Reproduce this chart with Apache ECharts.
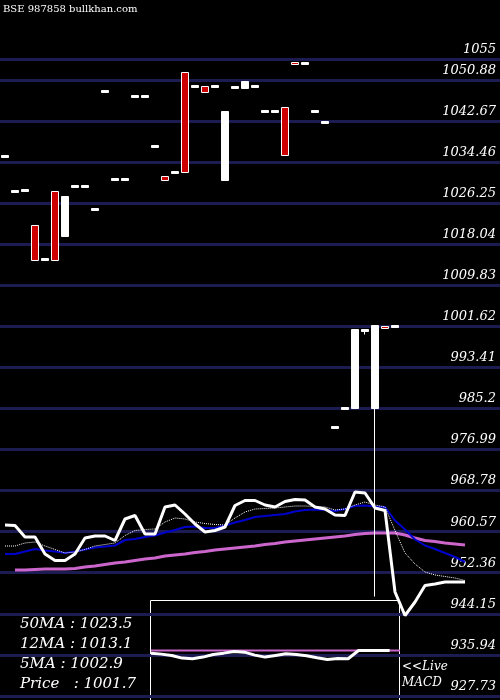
<!DOCTYPE html>
<html>
<head>
<meta charset="utf-8">
<script src="https://cdn.jsdelivr.net/npm/echarts@6/dist/echarts.min.js"></script>
<style>html,body{margin:0;background:#000;}#c{width:500px;height:700px;}</style>
</head>
<body>
<div id="c"></div>
<script>
// candles: [open, close]
var candles = [
  [1035.4,1035.8],[1028.4,1028.8],[1028.6,1029.0],[1021.8,1014.8],[1014.8,1015.2],
  [1028.6,1014.8],[1019.6,1027.6],[1029.4,1029.8],[1029.4,1029.8],[1024.8,1025.2],
  [1048.4,1048.8],[1030.8,1031.2],[1030.8,1031.2],[1047.4,1047.8],[1047.4,1047.8],
  [1037.4,1037.8],[1031.6,1030.8],[1032.2,1032.6],[1052.4,1032.4],[1049.4,1049.8],
  [1049.6,1048.4],[1049.4,1049.8],[1030.8,1044.6],[1049.2,1049.6],[1049.2,1050.6],
  [1049.4,1049.8],[1044.4,1044.8],[1044.4,1044.8],[1045.4,1035.8],[1054.4,1054.0],
  [1054.0,1054.4],[1044.4,1044.8],[1042.2,1042.6],[981.2,981.6],[985.0,985.4],
  [985.2,1001.0],[1000.6,1001.0],[985.2,1001.8],[1001.6,1001.2],[1001.4,1001.8]
];
var candleLows = {37: 947.6, 36: 1000.0};
var levels = ['1055','1050.88','1042.67','1034.46','1026.25','1018.04','1009.83','1001.62',
  '993.41','985.2','976.99','968.78','960.57','952.36','944.15','935.94','927.73'];
var priceLine = [961.9,961.8,959.5,959.5,956.1,954.8,954.8,956.1,959.3,959.7,959.7,958.8,963.1,963.8,
  960.1,960.1,965.5,965.9,964.1,962.1,960.5,960.8,961.5,965.8,966.8,966.8,965.9,965.5,966.6,967.0,
  966.9,965.5,965.1,963.9,963.8,968.5,968.3,965.3,964.8,948.5,943.8,946.5,949.8,950.1,950.5,950.5,950.5];
var ma5 = [957.7,957.7,958.3,958.5,957.7,957.0,956.3,956.5,957.0,957.7,958.0,958.3,959.8,960.8,961.0,
  961.1,962.5,963.3,963.1,962.5,962.2,962.0,961.9,963.3,964.5,965.1,965.2,965.3,965.5,965.7,965.7,
  965.6,965.5,964.9,965.1,965.9,966.5,965.9,965.5,960.8,956.3,954.1,952.5,951.9,951.6,951.3,950.8];
var ma12 = [956.1,956.1,956.6,957.1,956.8,956.6,956.3,956.6,957.0,957.4,957.6,957.8,958.9,959.1,959.5,
  959.8,960.4,960.9,961.5,961.6,961.3,961.3,961.8,962.4,962.9,963.5,963.7,963.9,964.1,964.6,964.9,
  965.0,964.9,964.7,965.1,965.7,965.8,965.6,965.5,962.8,961.0,959.0,957.8,957.1,956.3,955.5,954.5];
var ma50 = ['-',952.9,952.9,953.0,953.1,953.1,953.1,953.2,953.5,953.7,954.0,954.3,954.5,954.8,955.1,
  955.3,955.7,955.9,956.1,956.4,956.6,956.9,957.1,957.3,957.5,957.7,958.0,958.2,958.5,958.7,958.9,
  959.1,959.3,959.5,959.7,960.0,960.2,960.3,960.3,960.3,959.9,959.3,958.8,958.6,958.3,958.1,957.9];
var macd = [-0.8,-1.1,-1.5,-2.3,-2.5,-2.0,-1.2,-0.8,-0.3,-0.5,-1.4,-2.0,-1.5,-1.0,-1.2,-1.6,-2.2,
  -2.7,-2.4,-2.5,0,0,0,0,'-'];
var signal = [0,0,0,0,0,0,0,0,0,0,0,0,0,0,0,0,0,0,0,0,0,0,0,0,0];
var infoText = ['50MA : 1023.5','12MA : 1013.1','5MA : 1002.9','Price   : 1001.7'];

var N = 50, cats = [];
for (var i = 0; i < N; i++) cats.push(i);
var kdata = candles.map(function (c, i) {
  var lo = candleLows[i] !== undefined ? candleLows[i] : Math.min(c[0], c[1]);
  return [c[0], c[1], lo, Math.max(c[0], c[1])];
});
var serif = '"DejaVu Serif", "Liberation Serif", serif';

var chart = echarts.init(document.getElementById('c'));
chart.setOption({
  backgroundColor: '#000',
  animation: false,
  grid: [
    {left: -2, top: 0, width: 502, height: 700},
    {left: 151, top: 601, width: 249, height: 99}
  ],
  xAxis: [
    {type: 'category', data: cats, gridIndex: 0, show: false, boundaryGap: true},
    {type: 'category', data: signal.map(function (v, i) { return i; }), gridIndex: 1, show: false, boundaryGap: false}
  ],
  yAxis: [
    {type: 'value', gridIndex: 0, min: 926.9, max: 1066.9, show: false, splitLine: {show: false}},
    {type: 'value', gridIndex: 1, min: -15, max: 15, show: false, splitLine: {show: false}}
  ],
  graphic: [
    {type: 'text', left: 3, top: 4, style: {text: 'BSE 987858 bullkhan.com', fill: '#fff', font: '10px ' + serif}},
    {type: 'rect', shape: {x: 150.5, y: 600.5, width: 249, height: 100}, style: {fill: '#000', stroke: '#fff', lineWidth: 1}, z: 1},
    {type: 'text', left: 402, top: 659, style: {text: '<<Live\nMACD', fill: '#fff', font: 'italic 12px ' + serif, lineHeight: 16}}
  ].concat(infoText.map(function (t, i) {
    return {type: 'text', left: 20, top: 617 + i * 20, style: {text: t, fill: '#fff', font: 'italic 15px ' + serif}};
  })),
  series: [
    {
      type: 'candlestick', data: kdata, barWidth: 7, z: 3,
      itemStyle: {color: '#fff', color0: '#cc0000', borderColor: '#fff', borderColor0: '#fff', borderWidth: 1},
      markLine: {
        silent: true, symbol: 'none', z: 1,
        lineStyle: {color: '#1c1c52', width: 3, type: 'solid'},
        label: {position: 'insideEndTop', color: '#fff', fontStyle: 'italic', fontFamily: serif, fontSize: 13, distance: [4, 3],
          formatter: function (p) { return p.name; }},
        data: levels.map(function (l) { return {name: l, yAxis: parseFloat(l)}; })
      }
    },
    {type: 'line', data: ma50, symbol: 'none', z: 2, lineStyle: {color: '#cc66cc', width: 3}},
    {type: 'line', data: ma12, symbol: 'none', z: 2, lineStyle: {color: '#0000cc', width: 2}},
    {type: 'line', data: ma5, symbol: 'none', z: 2, lineStyle: {color: '#fff', width: 1, type: 'dotted'}},
    {type: 'line', data: priceLine, symbol: 'none', z: 2, lineStyle: {color: '#fff', width: 3}},
    {type: 'line', xAxisIndex: 1, yAxisIndex: 1, data: signal, symbol: 'none', z: 5, lineStyle: {color: '#cc66cc', width: 2}},
    {type: 'line', xAxisIndex: 1, yAxisIndex: 1, data: macd, symbol: 'none', z: 6, lineStyle: {color: '#fff', width: 3}}
  ]
});
</script>
</body>
</html>
